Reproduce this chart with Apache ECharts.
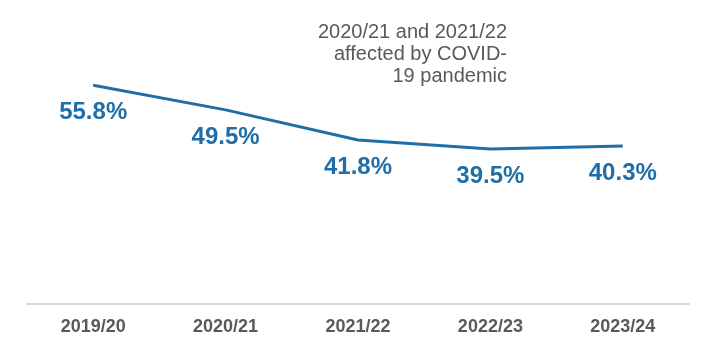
<!DOCTYPE html>
<html lang="en">
<head>
	<meta charset="UTF-8">
	<title>COVID line chart</title>
	<script src="https://cdn.jsdelivr.net/npm/echarts@6/dist/echarts.min.js"></script>
	<style>
		html, body { margin:0; padding:0; background:#fff; }
		#lineChart { width:710px; height:350px; }
	</style>
</head>
<body>
	<div id="lineChart"></div>

	<script>
	var years = ['2019/20', '2020/21', '2021/22', '2022/23', '2023/24'];
	var rates = [55.8, 49.5, 41.8, 39.5, 40.3];
	var noteLines = ['2020/21 and 2021/22', 'affected by COVID-', '19 pandemic'];

	var lineChart = echarts.init(document.getElementById('lineChart'), null, {renderer: 'canvas'});
	var option = {
		animation: false,
		grid: {
			left: 27,
			right: 21,
			top: 29.5,
			bottom: 46
		},
		xAxis: {
			type: 'category',
			data: years,
			boundaryGap: true,
			axisLine: {
				lineStyle: { color: '#D9D9D9', width: 2 }
			},
			axisTick: { show: false },
			axisLabel: {
				color: '#595959',
				fontFamily: 'Liberation Sans',
				fontSize: 18,
				fontWeight: 'bold',
				margin: 14
			}
		},
		yAxis: {
			type: 'value',
			min: 0,
			max: 70,
			show: false,
			splitLine: { show: false }
		},
		graphic: [
			{
				type: 'text',
				x: 507,
				y: 21,
				style: {
					text: noteLines.join('\n'),
					fill: '#595959',
					font: '20px "Liberation Sans"',
					align: 'right',
					lineHeight: 22
				}
			}
		],
		series: [
			{
				type: 'line',
				data: rates,
				symbol: 'circle',
				symbolSize: 0,
				showSymbol: true,
				lineStyle: { color: '#1F6EA7', width: 3 },
				itemStyle: { color: '#1F6EA7' },
				label: {
					show: true,
					position: 'bottom',
					distance: 15,
					formatter: function (p) { return p.value.toFixed(1) + '%'; },
					color: '#1F6EA7',
					fontFamily: 'Liberation Sans',
					fontSize: 24,
					fontWeight: 'bold'
				}
			}
		]
	};
	lineChart.setOption(option);
	</script>
</body>
</html>
